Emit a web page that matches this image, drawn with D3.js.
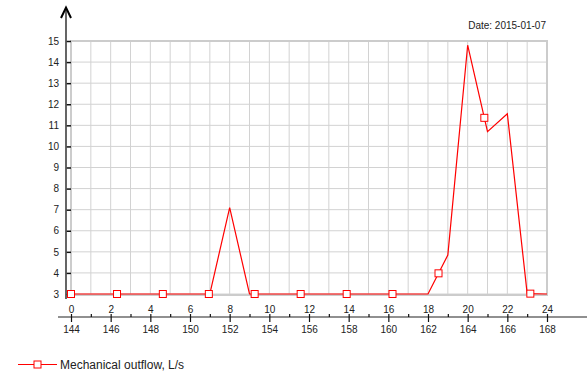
<!DOCTYPE html>
<html>
<head>
<meta charset="utf-8">
<script src="https://cdn.jsdelivr.net/npm/d3@7"></script>
<style>
    body { margin: 0; background: #fff; }
    svg { display: block; font-family: "Liberation Sans", Arial, sans-serif; }
</style>
</head>
<body>
<div id="app"></div>
<script>
// ----- Data -----
const hours = [0, 1, 2, 3, 4, 5, 6, 7, 8, 9, 10, 11, 12, 13, 14, 15, 16, 17, 18, 19, 20, 21, 22, 23, 24];
const outflow = [3, 3, 3, 3, 3, 3, 3, 3, 7.1, 3, 3, 3, 3, 3, 3, 3, 3, 3, 3, 4.85, 14.8, 10.7, 11.55, 3.02, 3];
const markerHours = [0, 2.32, 4.63, 6.95, 9.26, 11.58, 13.9, 16.21, 18.53, 20.84, 23.16];
const yTicks = [3, 4, 5, 6, 7, 8, 9, 10, 11, 12, 13, 14, 15];
const hourOffset = 144;
const dateLabel = "Date: 2015-01-07";
const seriesName = "Mechanical outflow, L/s";

const W = 587, H = 371;
const red = "#ff0000";
const font = "Liberation Sans, Arial, sans-serif";

function main() {
    const svg = d3.select("#app").append("svg")
        .attr("width", W)
        .attr("height", H);

    // scales
    const x = d3.scaleLinear().domain([0, 24]).range([71, 547]);
    const y = d3.scaleLinear().domain([3, 15]).range([294, 41]);

    // grid
    const grid = svg.append("g").attr("stroke", "#d2d2d2").attr("stroke-width", 1);
    grid.selectAll(".vg")
        .data(hours)
        .enter()
        .append("line")
            .attr("x1", d => x(d)).attr("x2", d => x(d))
            .attr("y1", y(15)).attr("y2", y(3));
    grid.selectAll(".hg")
        .data(yTicks)
        .enter()
        .append("line")
            .attr("x1", x(0)).attr("x2", x(24))
            .attr("y1", d => y(d)).attr("y2", d => y(d));

    // plot frame
    svg.append("rect")
        .attr("x", x(0)).attr("y", y(15))
        .attr("width", x(24) - x(0)).attr("height", y(3) - y(15) + 1)
        .attr("fill", "none")
        .attr("stroke", "#cccccc")
        .attr("stroke-width", 2);

    // y axis
    const yAxis = svg.append("g")
        .attr("transform", `translate(66,0)`)
        .call(d3.axisLeft(y).tickValues(yTicks).tickSize(5).tickPadding(2));
    yAxis.select(".domain").remove();
    yAxis.selectAll(".tick line").attr("x2", 5).attr("stroke", "#111").attr("stroke-width", 1.5);
    yAxis.selectAll("text").attr("font-size", 10).attr("fill", "#222").attr("font-family", font);

    svg.append("line")
        .attr("x1", 66).attr("x2", 66)
        .attr("y1", 9).attr("y2", 299)
        .attr("stroke", "#555").attr("stroke-width", 1.8);
    svg.append("path")
        .attr("d", "M61,18L66,7.5L71,18")
        .attr("fill", "none")
        .attr("stroke", "#000")
        .attr("stroke-width", 2);

    // x axis (hours of day on top, cumulative hours below)
    const axisY = 317;
    svg.append("line")
        .attr("x1", 58).attr("x2", W)
        .attr("y1", axisY).attr("y2", axisY)
        .attr("stroke", "#222").attr("stroke-width", 1.2);

    const evenHours = hours.filter(d => d % 2 === 0);

    const topAxis = svg.append("g")
        .attr("transform", `translate(0,${axisY})`)
        .call(d3.axisTop(x).tickValues(hours).tickSize(3).tickPadding(1.5)
            .tickFormat(d => d % 2 === 0 ? d : ""));
    topAxis.select(".domain").remove();

    const bottomAxis = svg.append("g")
        .attr("transform", `translate(0,${axisY})`)
        .call(d3.axisBottom(x).tickValues(evenHours).tickSize(5).tickPadding(3.5)
            .tickFormat(d => d + hourOffset));
    bottomAxis.select(".domain").remove();

    [topAxis, bottomAxis].forEach(a => {
        a.selectAll(".tick line").attr("stroke", "#111").attr("stroke-width", 1.2);
        a.selectAll("text").attr("font-size", 10).attr("fill", "#222").attr("font-family", font);
    });

    // series line
    const line = d3.line()
        .x((d, i) => x(hours[i]))
        .y(d => y(d));
    svg.append("path")
        .datum(outflow)
        .attr("fill", "none")
        .attr("stroke", red)
        .attr("stroke-width", 1.2)
        .attr("d", line);

    // markers sit on the line at regular intervals
    const valueAt = h => {
        const i = Math.min(d3.bisectRight(hours, h) - 1, hours.length - 2);
        const t = (h - hours[i]) / (hours[i + 1] - hours[i]);
        return outflow[i] + t * (outflow[i + 1] - outflow[i]);
    };
    svg.selectAll(".marker")
        .data(markerHours)
        .enter()
        .append("rect")
            .attr("class", "marker")
            .attr("x", d => x(d) - 3.5)
            .attr("y", d => y(valueAt(d)) - 3.5)
            .attr("width", 7).attr("height", 7)
            .attr("fill", "#fff")
            .attr("stroke", red)
            .attr("stroke-width", 1);

    // date
    svg.append("text")
        .attr("x", 546).attr("y", 29)
        .attr("text-anchor", "end")
        .attr("font-size", 10)
        .attr("fill", "#222")
        .text(dateLabel);

    // legend
    const legend = svg.append("g").attr("transform", "translate(0,364.5)");
    legend.append("line")
        .attr("x1", 18).attr("x2", 57)
        .attr("stroke", red).attr("stroke-width", 1.2);
    legend.append("rect")
        .attr("x", 34).attr("y", -3.5)
        .attr("width", 7).attr("height", 7)
        .attr("fill", "#fff").attr("stroke", red);
    legend.append("text")
        .attr("x", 60).attr("dy", "0.36em")
        .attr("font-size", 12)
        .attr("fill", "#222")
        .text(seriesName);
}

main();
</script>
</body>
</html>
